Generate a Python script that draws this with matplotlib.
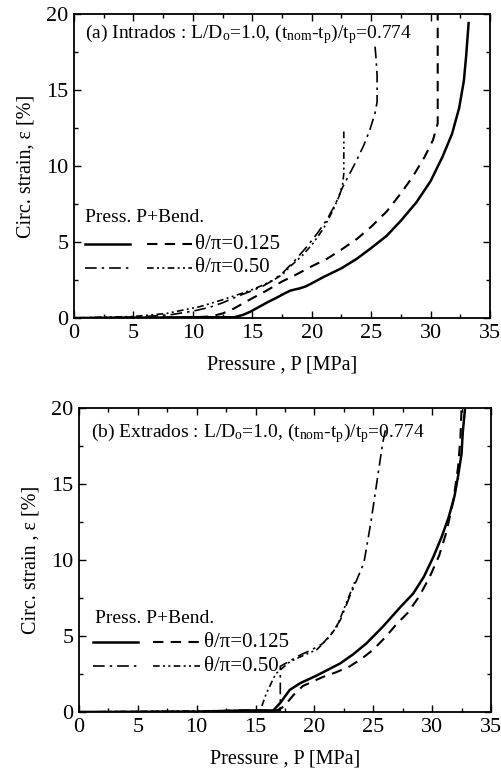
import matplotlib
matplotlib.use("Agg")
import matplotlib.pyplot as plt
from matplotlib.ticker import MultipleLocator

plt.rcParams['font.family'] = ['Liberation Serif', 'DejaVu Serif']
plt.rcParams['mathtext.fontset'] = 'custom'
plt.rcParams['mathtext.rm'] = 'Liberation Serif'
plt.rcParams['mathtext.it'] = 'Liberation Serif:italic'

# ---- (a) Intrados ----
solid_a_P = [0, 5, 10, 12, 13.5, 14.2, 14.8, 15.5, 16.2, 17.2, 17.8, 18.2, 18.6, 19.0, 19.5, 20.0, 21.0, 22.5,
             23.8, 25.0, 26.3, 27.5, 28.8, 30.0, 31.0, 31.8, 32.4, 32.8, 33.0, 33.2]
solid_a_e = [0, 0.02, 0.05, 0.05, 0.05, 0.2, 0.4, 0.7, 1.0, 1.4, 1.65, 1.8, 1.88, 1.95, 2.08, 2.28, 2.7, 3.27,
             3.9, 4.6, 5.4, 6.4, 7.6, 9.0, 10.6, 12.1, 13.8, 15.6, 17.3, 19.4]
dash_a_P = [0, 5, 10, 11.5, 12.5, 13.4, 14.2, 15.0, 16.2, 17.5, 18.8, 20.0, 21.3, 22.5, 23.8, 25.0, 26.3,
            27.5, 28.5, 29.5, 30.2, 30.6, 30.6]
dash_a_e = [0, 0.02, 0.05, 0.1, 0.3, 0.6, 0.95, 1.3, 1.8, 2.4, 2.9, 3.4, 3.9, 4.5, 5.2, 6.0, 7.0,
            8.2, 9.3, 10.6, 11.7, 12.8, 20.0]
dd_a_P = [0, 5, 8, 10, 11.4, 12.5, 14.0, 15.0, 15.9, 16.8, 17.6, 18.6, 19.6, 20.5, 21.3, 22.0, 22.6, 23.2,
          23.8, 24.4, 24.9, 25.3, 25.5, 25.5, 25.4, 25.3]
dd_a_e = [0, 0.05, 0.2, 0.45, 0.7, 1.0, 1.5, 1.8, 2.1, 2.5, 3.0, 3.8, 4.7, 5.6, 6.5, 7.5, 8.6, 9.5,
          10.4, 11.4, 12.4, 13.4, 14.2, 16.0, 17.2, 18.1]
ddd_a_P = [0, 5, 7.8, 10.6, 12.5, 14.8, 16.0, 17.0, 17.6, 18.2, 19.2, 20.1, 21.0, 21.8, 22.3, 22.6, 22.7, 22.7]
ddd_a_e = [0, 0.1, 0.3, 0.75, 1.2, 1.8, 2.2, 2.6, 2.9, 3.4, 4.1, 4.9, 5.9, 7.1, 8.0, 8.8, 9.5, 12.3]

# ---- (b) Extrados ----
solid_b_P = [0, 10, 14, 16.5, 17.1, 17.9, 18.8, 20.2, 21.2, 22.2, 23.3, 24.4, 25.8, 27.3, 28.4, 29.3, 30.1,
             30.8, 31.4, 31.9, 32.2, 32.5, 32.6, 32.8]
solid_b_e = [0, 0.02, 0.1, 0.1, 0.6, 1.45, 1.9, 2.4, 2.8, 3.2, 3.8, 4.5, 5.6, 6.9, 7.8, 8.9, 10.2,
             11.5, 12.8, 14.2, 15.5, 17.0, 18.4, 20.0]
dash_b_P = [0, 10, 14, 16.8, 17.4, 18.2, 19.0, 20.7, 21.8, 23.0, 24.0, 25.0, 26.0, 27.0, 27.9, 28.9, 29.8,
            30.6, 31.2, 31.8, 32.2, 32.4, 32.5]
dash_b_e = [0, 0.02, 0.1, 0.1, 0.35, 1.1, 1.7, 2.3, 2.6, 3.0, 3.5, 4.1, 4.9, 5.8, 6.5, 7.6, 8.9,
            10.3, 11.8, 13.9, 16.1, 18.0, 20.0]
dd_b_P = [0, 14, 16.9, 17.1, 17.1, 18.0, 18.8, 19.8, 20.7, 21.5, 22.2, 23.0, 23.6, 24.2, 24.8, 25.3, 25.8, 26.1]
dd_b_e = [0, 0.05, 0.1, 0.1, 3.0, 3.4, 3.75, 4.1, 4.5, 5.2, 6.05, 7.6, 8.7, 9.8, 12.5, 15.1, 17.7, 18.8]
ddd_b_P = [0, 14, 15.4, 15.9, 16.7, 17.9, 19.0, 20.2, 21.1, 21.9, 22.7, 23.5]
ddd_b_e = [0, 0.1, 0.1, 1.2, 2.5, 3.3, 3.7, 4.1, 4.8, 5.6, 7.15, 8.7]

x_ticks = [0, 5, 10, 15, 20, 25, 30, 35]
y_ticks = [0, 5, 10, 15, 20]
legend_title = "Press. P+Bend."
legend_labels = ["θ/π=0.125", "θ/π=0.50"]

LS_SOLID = '-'
LS_DASH = (0, (5, 3.5))
LS_DD = (0, (7, 3, 1.5, 3))
LS_DDD = (0, (4, 2, 1.2, 2, 1.2, 2))

fig = plt.figure(figsize=(5.02, 7.76), dpi=100)

def setup(ax, ylabel):
    ax.set_xlim(0, 35)
    ax.set_ylim(0, 20)
    ax.set_xticks(x_ticks)
    ax.set_yticks(y_ticks)
    ax.xaxis.set_minor_locator(MultipleLocator(2.5))
    ax.yaxis.set_minor_locator(MultipleLocator(2.5))
    ax.tick_params(which='both', direction='in', top=True, right=True, labelsize=16, pad=4)
    ax.tick_params(which='major', length=5, width=1)
    ax.tick_params(which='minor', length=3, width=1)
    for s in ax.spines.values():
        s.set_linewidth(1.3)
    ax.set_xlabel("Pressure , P [MPa]", fontsize=14.5, labelpad=9)
    ax.set_ylabel(ylabel, fontsize=14.5, labelpad=8)

def legend(ax, tx, ty, y1, y2, xs0, xs1, xd0, xd1, xt):
    ax.text(tx, ty, legend_title, transform=ax.transAxes, fontsize=14, va='center', ha='left')
    ax.plot([xs0, xs1], [y1, y1], transform=ax.transAxes, color='k', lw=1.8, ls=LS_SOLID)
    ax.plot([xd0, xd1], [y1, y1], transform=ax.transAxes, color='k', lw=1.5, ls=LS_DASH)
    ax.plot([xs0, xs1], [y2, y2], transform=ax.transAxes, color='k', lw=1.2, ls=LS_DD)
    ax.plot([xd0, xd1], [y2, y2], transform=ax.transAxes, color='k', lw=1.2, ls=LS_DDD)
    ax.text(xt, y1, legend_labels[0], transform=ax.transAxes, fontsize=15, va='center', ha='left')
    ax.text(xt, y2, legend_labels[1], transform=ax.transAxes, fontsize=15, va='center', ha='left')

# top panel
ax1 = fig.add_axes([0.1474, 0.5902, 0.8287, 0.3918])
setup(ax1, "Circ. strain, ε [%]")
ax1.plot(solid_a_P, solid_a_e, color='k', lw=1.8, ls=LS_SOLID)
ax1.plot(dash_a_P, dash_a_e, color='k', lw=1.5, ls=LS_DASH)
ax1.plot(dd_a_P, dd_a_e, color='k', lw=1.2, ls=LS_DD)
ax1.plot(ddd_a_P, ddd_a_e, color='k', lw=1.2, ls=LS_DDD)
ax1.text(0.026, 0.935, r"(a) Intrados : L/D$_\mathrm{o}$=1.0, (t$_\mathrm{nom}$-t$_\mathrm{p}$)/t$_\mathrm{p}$=0.774",
         transform=ax1.transAxes, fontsize=14, va='center', ha='left')
legend(ax1, 0.026, 0.329, 0.243, 0.165, 0.026, 0.135, 0.176, 0.284, 0.29)

# bottom panel
ax2 = fig.add_axes([0.1574, 0.0825, 0.8207, 0.3918])
setup(ax2, "Circ. strain , ε [%]")
ax2.plot(solid_b_P, solid_b_e, color='k', lw=1.8, ls=LS_SOLID)
ax2.plot(dash_b_P, dash_b_e, color='k', lw=1.5, ls=LS_DASH)
ax2.plot(dd_b_P, dd_b_e, color='k', lw=1.2, ls=LS_DD)
ax2.plot(ddd_b_P, ddd_b_e, color='k', lw=1.2, ls=LS_DDD)
ax2.text(0.029, 0.918, r"(b) Extrados : L/D$_\mathrm{o}$=1.0, (t$_\mathrm{nom}$-t$_\mathrm{p}$)/t$_\mathrm{p}$=0.774",
         transform=ax2.transAxes, fontsize=14, va='center', ha='left')
legend(ax2, 0.039, 0.309, 0.23, 0.151, 0.034, 0.143, 0.18, 0.294, 0.303)

fig.savefig("out.png", dpi=100)
